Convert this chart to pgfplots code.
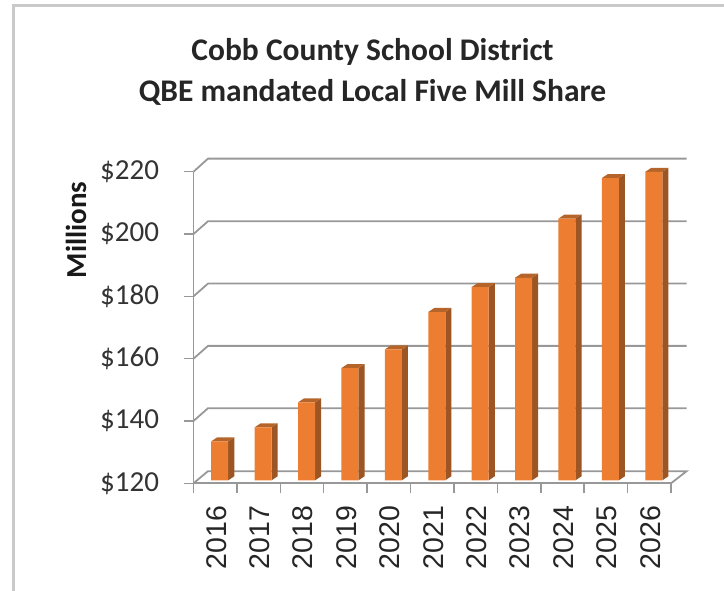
\documentclass[border=0pt]{standalone}
\usepackage{pgfplots}
\pgfplotsset{compat=1.18}
\usepackage{pgfplotstable}
\usepackage{fontspec}
\setmainfont{Carlito}
\newfontfamily\yearfont{Liberation Sans}
\definecolor{barfront}{HTML}{ED7D31}
\definecolor{barside}{HTML}{9C5523}
\definecolor{bartop}{HTML}{B5652A}
\definecolor{gridc}{HTML}{989898}
\definecolor{framec}{HTML}{C9C9C9}
\pgfplotstableread{
x val
0 132.5
1 137
2 145
3 156
4 162
5 174
6 182
7 185
8 204
9 217
10 219
}\bardata
% depth faces of one bar: index, value
\newcommand{\barfaces}[2]{%
  \pgfmathsetmacro{\xa}{#1-0.1963}%
  \pgfmathsetmacro{\xb}{#1+0.1963}%
  \pgfmathsetmacro{\xc}{#1+0.1963+0.14}%
  \pgfmathsetmacro{\xd}{#1-0.1963+0.14}%
  \pgfmathsetmacro{\yt}{#2+1.3}%
  \pgfmathsetmacro{\yb}{120+1.3}%
  \edef\temp{\noexpand\addplot[fill=barside,draw=none,xshift=4.5pt,yshift=3pt,forget plot] coordinates {(\xb,120) (\xc,\yb) (\xc,\yt) (\xb,#2)} --cycle;
  \noexpand\addplot[fill=bartop,draw=none,xshift=4.5pt,yshift=3pt,forget plot] coordinates {(\xa,#2) (\xd,\yt) (\xc,\yt) (\xb,#2)} --cycle;}%
  \temp
}
\begin{document}
\begin{tikzpicture}[x=1pt,y=-1pt]
\path[use as bounding box] (0,0) rectangle (724,590);
\draw[framec,line width=3pt] (13,592) -- (13,5) -- (726,5);
\node[font=\fontsize{31.5}{31.5}\selectfont\bfseries,text=black!85] at (372.5,52) {Cobb County School District};
\node[font=\fontsize{31.5}{31.5}\selectfont\bfseries,text=black!85] at (372.5,92) {QBE mandated Local Five Mill Share};
\node[rotate=90,font=\fontsize{29}{29}\selectfont\bfseries,text=black!90] at (76,230) {Millions};
\begin{axis}[
  at={(193.5pt,-483.3pt)}, anchor=south west,
  scale only axis, width=477.5pt, height=311.6pt,
  xmin=-0.5, xmax=10.5, ymin=120, ymax=220,
  clip=false,
  axis lines=left,
  axis line style={-,gridc,line width=1.8pt},
  tick align=outside,
  ytick={120,140,160,180,200,220},
  yticklabels={\$120,\$140,\$160,\$180,\$200,\$220},
  tick style={gridc,line width=1.5pt},
  major tick length=10pt,
  xtick={-0.5,0.5,1.5,2.5,3.5,4.5,5.5,6.5,7.5,8.5,9.5,10.5},
  xticklabels={,,,,,,,,,,,},
  extra x ticks={0,1,2,3,4,5,6,7,8,9,10},
  extra x tick labels={2016,2017,2018,2019,2020,2021,2022,2023,2024,2025,2026},
  extra x tick style={major tick length=0pt,tick style={draw=none},
    xticklabel style={rotate=90,anchor=east,font=\yearfont\fontsize{28.5}{28.5}\selectfont,text=black!85,yshift=-1pt,xshift=-19pt}},
  yticklabel style={font=\fontsize{29}{29}\selectfont,text=black!80,xshift=-21pt},
]
% back wall lines
\addplot[gridc,line width=1.8pt,forget plot] coordinates {(-0.5,120) (-0.166,123.9) (10.86,123.9) (10.5,120)};
\addplot[gridc,line width=1.8pt,forget plot] coordinates {(-0.5,140) (-0.166,144.1) (10.86,144.1)};
\addplot[gridc,line width=1.8pt,forget plot] coordinates {(-0.5,160) (-0.166,164.1) (10.86,164.1)};
\addplot[gridc,line width=1.8pt,forget plot] coordinates {(-0.5,180) (-0.166,184.1) (10.86,184.1)};
\addplot[gridc,line width=1.8pt,forget plot] coordinates {(-0.5,200) (-0.166,204.1) (10.86,204.1)};
\addplot[gridc,line width=1.8pt,forget plot] coordinates {(-0.5,220) (-0.166,224.2) (10.86,224.2)};
\barfaces{0}{132.5}
\barfaces{1}{137}
\barfaces{2}{145}
\barfaces{3}{156}
\barfaces{4}{162}
\barfaces{5}{174}
\barfaces{6}{182}
\barfaces{7}{185}
\barfaces{8}{204}
\barfaces{9}{217}
\barfaces{10}{219}
\addplot[ybar,bar width=17pt,fill=barfront,draw=none,xshift=4.5pt,yshift=3pt] table[x=x,y=val] {\bardata};
\end{axis}
\end{tikzpicture}
\end{document}
